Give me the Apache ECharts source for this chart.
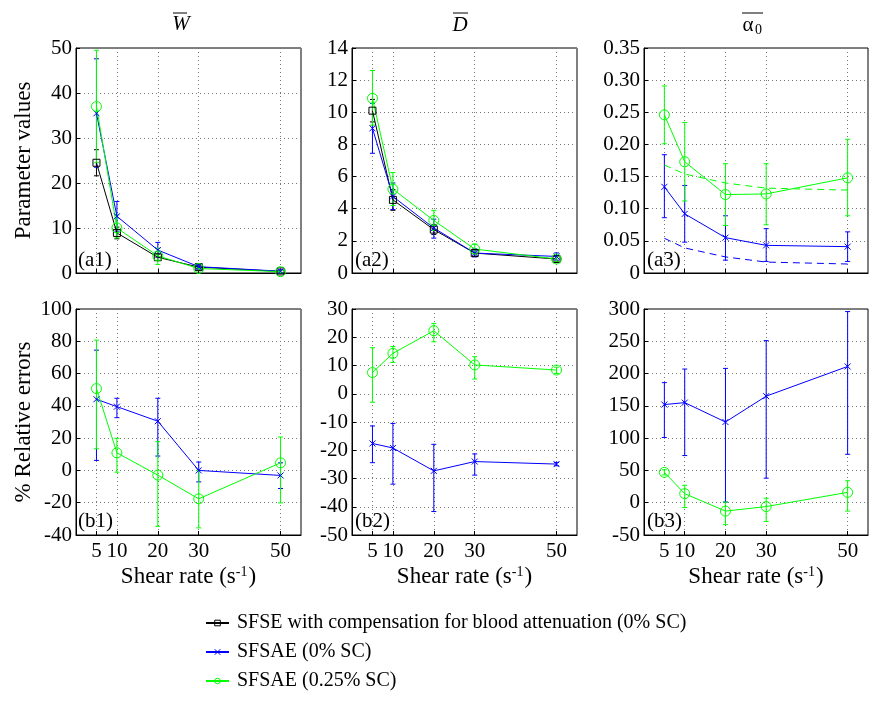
<!DOCTYPE html>
<html>
<head>
<meta charset="utf-8">
<script src="https://cdn.jsdelivr.net/npm/echarts@6/dist/echarts.min.js"></script>
<style>
  html, body { margin: 0; background: #fff; }
  #chart { width: 870px; height: 702px; }
</style>
</head>
<body>
<div id="chart"></div>
<script>
// shear rates (s-1)
const shearRates = [5, 10, 20, 30, 50]

// (a1) W parameter values
const wSFSE = [24.5, 8.9, 3.5, 1.3, 0.35]
const wSFSELow = [21.6, 7.6, 2.8, 0.9, 0.1]
const wSFSEHigh = [27.4, 10.2, 4.2, 1.7, 0.6]
const wSC0 = [35.5, 12.6, 5.1, 1.4, 0.4]
const wSC0Low = [23.5, 9.3, 3.5, 0.9, 0.1]
const wSC0High = [47.6, 15.9, 6.8, 1.9, 0.7]
const wSC25 = [37, 10, 3.8, 1.0, 0.3]
const wSC25Low = [24.5, 7.8, 1.9, 0.5, 0.05]
const wSC25High = [49.5, 12.9, 5.5, 1.5, 0.55]

// (a2) D parameter values
const dSFSE = [10.1, 4.55, 2.7, 1.24, 0.87]
const dSFSELow = [9.4, 3.9, 2.4, 1.05, 0.7]
const dSFSEHigh = [10.8, 5.2, 3.0, 1.43, 1.04]
const dSC0 = [9.0, 4.76, 2.8, 1.24, 1.03]
const dSC0Low = [7.45, 3.95, 2.17, 1.0, 0.8]
const dSC0High = [10.55, 5.6, 3.35, 1.5, 1.25]
const dSC25 = [10.87, 5.22, 3.27, 1.49, 0.87]
const dSC25Low = [9.2, 4.2, 2.65, 1.2, 0.7]
const dSC25High = [12.6, 6.25, 3.9, 1.8, 1.05]

// (a3) alpha0 parameter values
const aSC0 = [0.134, 0.092, 0.055, 0.043, 0.041]
const aSC0Low = [0.086, 0.048, 0.020, 0.018, 0.018]
const aSC0High = [0.184, 0.136, 0.089, 0.069, 0.064]
const aSC25 = [0.246, 0.173, 0.122, 0.123, 0.148]
const aSC25Low = [0.201, 0.112, 0.074, 0.075, 0.089]
const aSC25High = [0.291, 0.234, 0.170, 0.170, 0.208]
// dashed reference curves
const aRef0 = [0.054, 0.039, 0.025, 0.017, 0.014]
const aRef25 = [0.168, 0.154, 0.140, 0.132, 0.129]

// (b1) W relative errors (%)
const wErr0 = [44.1, 39.5, 30.5, 0, -3.1]
const wErr0Low = [6.2, 32.7, 8.9, -7.1, -11.2]
const wErr0High = [74.5, 44.7, 44.7, 5.2, 4.7]
const wErr25 = [50.7, 10.9, -2.9, -17.6, 4.7]
const wErr25Low = [13.4, -1.1, -34.6, -35.6, -20.1]
const wErr25High = [80.7, 19.9, 17.8, 0, 20.7]

// (b2) D relative errors (%)
const dErr0 = [-17.6, -19.2, -27.3, -24.0, -24.9]
const dErr0Low = [-24.4, -32.0, -41.7, -28.8, -25.5]
const dErr0High = [-11.4, -10.5, -17.9, -21.3, -24.3]
const dErr25 = [7.5, 14.3, 22.3, 10.2, 8.4]
const dErr25Low = [-3.0, 11.1, 18.4, 5.2, 7.2]
const dErr25High = [16.3, 16.7, 24.9, 13.1, 9.4]

// (b3) alpha0 relative errors (%)
const aErr0 = [152, 155, 125, 165, 211]
const aErr0Low = [101, 73, 1, 38, 75]
const aErr0High = [186, 207, 208, 251, 296]
const aErr25 = [47, 14, -13, -6, 16]
const aErr25Low = [43, -7.5, -34, -29, -13]
const aErr25High = [51, 27, 1, 7, 34]

const NAME_SFSE = 'SFSE with compensation for blood attenuation (0% SC)'
const NAME_SC0 = 'SFSAE (0% SC)'
const NAME_SC25 = 'SFSAE (0.25% SC)'

const FONT = '"Liberation Serif", "Times New Roman", serif'
const FS = 21
const NAME_FS = 23
const BLACK = '#000000'
const BLUE = '#0000ff'
const GREEN = '#00ff00'
const CLEAR = 'rgba(255,255,255,0)'

const chart = echarts.init(document.getElementById('chart'))

const grids = [
  { left: 76, top: 48, width: 225, height: 225 },
  { left: 352, top: 48, width: 225, height: 225 },
  { left: 644, top: 48, width: 224, height: 225 },
  { left: 76, top: 309, width: 225, height: 226 },
  { left: 352, top: 309, width: 225, height: 226 },
  { left: 644, top: 309, width: 224, height: 226 }
].map(g => ({ ...g, show: true, borderColor: '#000', borderWidth: 1, backgroundColor: 'transparent' }))

const yRanges = [
  { min: 0, max: 50, interval: 10 },
  { min: 0, max: 14, interval: 2 },
  { min: 0, max: 0.35, interval: 0.05 },
  { min: -40, max: 100, interval: 20 },
  { min: -50, max: 30, interval: 10 },
  { min: -50, max: 300, interval: 50 }
]

const gridLine = { show: true, lineStyle: { color: '#777', type: [1, 3], width: 1 } }

const xAxes = grids.map((g, i) => {
  const bottomRow = i >= 3
  return {
    type: 'value',
    gridIndex: i,
    min: 0,
    max: 55,
    axisLine: { onZero: false, lineStyle: { color: '#000' } },
    axisTick: { inside: true, length: 4, customValues: shearRates, lineStyle: { color: '#000' } },
    axisLabel: {
      show: bottomRow,
      customValues: shearRates,
      color: '#000',
      fontFamily: FONT,
      fontSize: FS,
      margin: 6
    },
    splitLine: gridLine,
    name: bottomRow ? '{a|Shear rate (s}{s|-1}{a|)}' : '',
    nameLocation: 'middle',
    nameGap: 30,
    nameTextStyle: {
      rich: {
        a: { fontFamily: FONT, fontSize: NAME_FS, color: '#000' },
        s: { fontFamily: FONT, fontSize: 14, color: '#000', padding: [0, 1, 9, 0] }
      }
    }
  }
})

const yAxes = grids.map((g, i) => ({
  type: 'value',
  gridIndex: i,
  ...yRanges[i],
  axisLine: { onZero: false, lineStyle: { color: '#000' } },
  axisTick: { inside: true, length: 4, lineStyle: { color: '#000' } },
  axisLabel: {
    color: '#000',
    fontFamily: FONT,
    fontSize: FS,
    margin: 4,
    formatter: i === 2 ? (v => (v === 0 ? '0' : v.toFixed(2))) : (v => String(v))
  },
  splitLine: gridLine,
  name: i === 0 ? 'Parameter values' : i === 3 ? '% Relative errors' : '',
  nameLocation: 'middle',
  nameGap: 41,
  nameTextStyle: { fontFamily: FONT, fontSize: NAME_FS, color: '#000' }
}))

const markers = {
  [BLACK]: { symbol: 'rect', symbolSize: 7 },
  [BLUE]: { symbol: 'path://M0 0L10 10M10 0L0 10', symbolSize: 6 },
  [GREEN]: { symbol: 'circle', symbolSize: 10 }
}

const lineSeries = (name, gi, values, color) => ({
  name,
  type: 'line',
  xAxisIndex: gi,
  yAxisIndex: gi,
  data: shearRates.map((x, k) => [x, values[k]]),
  symbol: markers[color].symbol,
  symbolSize: markers[color].symbolSize,
  showAllSymbol: true,
  lineStyle: { color, width: 1 },
  itemStyle: { color: CLEAR, borderColor: color, borderWidth: 1 },
  emphasis: { disabled: true },
  animation: false,
  z: 3
})

const dashedSeries = (name, gi, values, color) => ({
  name,
  type: 'line',
  xAxisIndex: gi,
  yAxisIndex: gi,
  data: shearRates.map((x, k) => [x, values[k]]),
  symbol: 'none',
  lineStyle: { color, width: 1, type: [7, 5] },
  emphasis: { disabled: true },
  animation: false,
  z: 2
})

const renderErrorBar = (params, api) => {
  const x = api.value(0)
  const lo = api.coord([x, api.value(1)])
  const hi = api.coord([x, api.value(2)])
  const cap = 2.5
  const style = { stroke: api.visual('color'), lineWidth: 1 }
  return {
    type: 'group',
    children: [
      { type: 'line', shape: { x1: lo[0], y1: lo[1], x2: hi[0], y2: hi[1] }, style },
      { type: 'line', shape: { x1: lo[0] - cap, y1: lo[1], x2: lo[0] + cap, y2: lo[1] }, style },
      { type: 'line', shape: { x1: hi[0] - cap, y1: hi[1], x2: hi[0] + cap, y2: hi[1] }, style }
    ]
  }
}

const errorSeries = (gi, low, high, color) => ({
  type: 'custom',
  xAxisIndex: gi,
  yAxisIndex: gi,
  renderItem: renderErrorBar,
  itemStyle: { color },
  encode: { x: 0, y: [1, 2] },
  data: shearRates.map((x, k) => [x, low[k], high[k]]),
  silent: true,
  animation: false,
  z: 2
})

const series = [
  // (a1)
  lineSeries(NAME_SFSE, 0, wSFSE, BLACK),
  lineSeries(NAME_SC0, 0, wSC0, BLUE),
  lineSeries(NAME_SC25, 0, wSC25, GREEN),
  errorSeries(0, wSFSELow, wSFSEHigh, BLACK),
  errorSeries(0, wSC0Low, wSC0High, BLUE),
  errorSeries(0, wSC25Low, wSC25High, GREEN),
  // (a2)
  lineSeries(NAME_SFSE, 1, dSFSE, BLACK),
  lineSeries(NAME_SC0, 1, dSC0, BLUE),
  lineSeries(NAME_SC25, 1, dSC25, GREEN),
  errorSeries(1, dSFSELow, dSFSEHigh, BLACK),
  errorSeries(1, dSC0Low, dSC0High, BLUE),
  errorSeries(1, dSC25Low, dSC25High, GREEN),
  // (a3)
  lineSeries(NAME_SC0, 2, aSC0, BLUE),
  lineSeries(NAME_SC25, 2, aSC25, GREEN),
  dashedSeries('ref0', 2, aRef0, BLUE),
  dashedSeries('ref25', 2, aRef25, GREEN),
  errorSeries(2, aSC0Low, aSC0High, BLUE),
  errorSeries(2, aSC25Low, aSC25High, GREEN),
  // (b1)
  lineSeries(NAME_SC0, 3, wErr0, BLUE),
  lineSeries(NAME_SC25, 3, wErr25, GREEN),
  errorSeries(3, wErr0Low, wErr0High, BLUE),
  errorSeries(3, wErr25Low, wErr25High, GREEN),
  // (b2)
  lineSeries(NAME_SC0, 4, dErr0, BLUE),
  lineSeries(NAME_SC25, 4, dErr25, GREEN),
  errorSeries(4, dErr0Low, dErr0High, BLUE),
  errorSeries(4, dErr25Low, dErr25High, GREEN),
  // (b3)
  lineSeries(NAME_SC0, 5, aErr0, BLUE),
  lineSeries(NAME_SC25, 5, aErr25, GREEN),
  errorSeries(5, aErr0Low, aErr0High, BLUE),
  errorSeries(5, aErr25Low, aErr25High, GREEN)
]

const txt = (text, x, y, extra) => ({
  type: 'text',
  x, y,
  silent: true,
  style: {
    text,
    fontFamily: FONT,
    fontSize: FS,
    fill: '#000',
    textAlign: 'left',
    textVerticalAlign: 'middle',
    ...extra
  }
})
const overline = (x1, x2, y) => ({
  type: 'line',
  silent: true,
  shape: { x1, y1: y, x2, y2: y },
  style: { stroke: '#000', lineWidth: 1 }
})

const graphic = [
  // column headers
  txt('W', 181, 24, { fontStyle: 'italic', textAlign: 'center' }),
  overline(173, 187, 13),
  txt('D', 460, 25, { fontStyle: 'italic', textAlign: 'center' }),
  overline(453, 468, 13),
  txt('α', 748, 25, { textAlign: 'center' }),
  txt('0', 755, 30, { fontSize: 14 }),
  overline(742, 763, 13),
  // panel labels
  txt('(a1)', 78, 260),
  txt('(a2)', 355, 260),
  txt('(a3)', 647, 260),
  txt('(b1)', 78, 521),
  txt('(b2)', 355, 521),
  txt('(b3)', 647, 521)
]

const legendItem = (name, color) => ({
  name,
  itemStyle: { color: CLEAR, borderColor: color, borderWidth: 1 }
})

chart.setOption({
  animation: false,
  backgroundColor: '#fff',
  grid: grids,
  xAxis: xAxes,
  yAxis: yAxes,
  series,
  graphic,
  legend: {
    orient: 'vertical',
    left: 200,
    top: 608,
    itemWidth: 23,
    itemHeight: 7,
    itemGap: 9,
    selectedMode: false,
    data: [legendItem(NAME_SFSE, BLACK), legendItem(NAME_SC0, BLUE), legendItem(NAME_SC25, GREEN)],
    textStyle: { fontFamily: FONT, fontSize: 20, color: '#000', padding: [0, 0, 0, 3] }
  }
})
</script>
</body>
</html>
